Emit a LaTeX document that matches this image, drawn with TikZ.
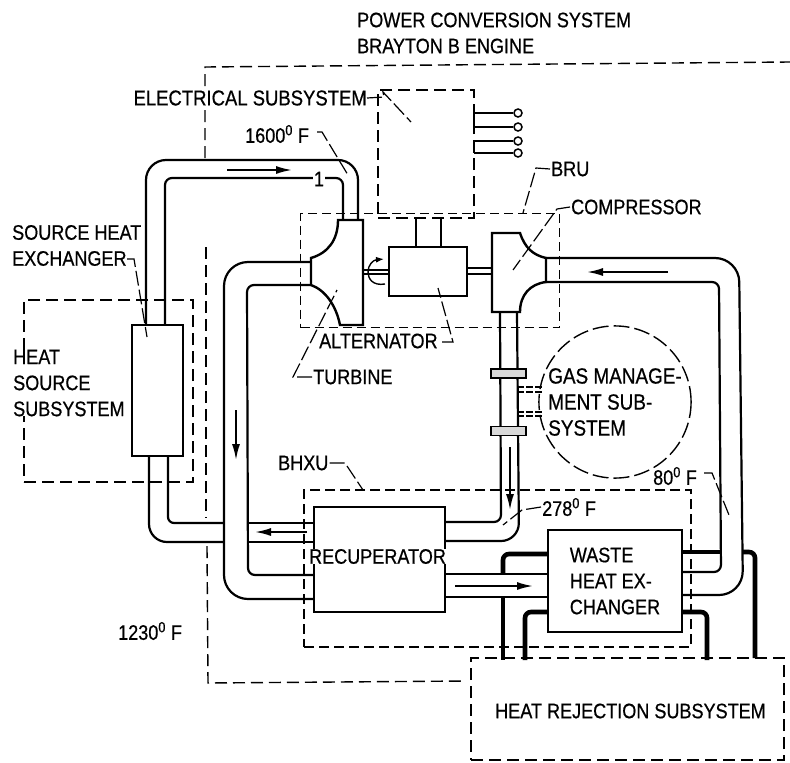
\documentclass[tikz,border=0pt]{standalone}
\usepackage{fontspec}
\setmainfont[FakeStretch=0.86,FakeBold=0.6]{Liberation Sans}
\usetikzlibrary{arrows.meta}

\tikzset{
	txt/.style={inner sep=1pt,font=\fontsize{21}{26}\selectfont,align=left},
	dbox/.style={draw,line width=1.4pt,dash pattern=on 12pt off 6pt,inner sep=0pt,txt},
	box/.style={draw,fill=white,line width=2.4pt,inner sep=0pt,txt},
	pipe/.style={line width=2.2pt},
	cool/.style={line width=4.6pt,rounded corners=6pt},
	lead/.style={line width=1.2pt,dash pattern=on 15pt off 4pt},
	flow/.style={line width=1.8pt,-{Latex[length=16pt,width=8pt]}},
	flange/.style={draw,fill=black!15,line width=1.6pt,minimum width=35pt,minimum height=9pt,inner sep=0pt},
	term/.style={draw,circle,fill=white,line width=1.5pt,minimum size=8pt,inner sep=0pt}
}

\begin{document}
\begin{tikzpicture}[x=1pt,y=-1pt]
		\useasboundingbox (0,0) rectangle (790,763);

		% Dashed boxes
		\draw[dbox] (205,158) -- (205,67) -- (790,62);
		\draw[dbox] (206,247) -- (206,518);
		\draw[dbox] (207,546) -- (208,683) -- (466,681);
		\node[dbox,minimum width=96pt,minimum height=128pt] (elec) at (426,154) {};
		\node[dbox,minimum width=259pt,minimum height=114pt,dash pattern=on 9pt off 5pt] (bru) at (430,270.5) {};
		\node[dbox,minimum width=169pt,minimum height=182pt] (heatsrc) at (108.5,391) {};
		\node[dbox,minimum width=387pt,minimum height=157pt,dash pattern=on 10pt off 5pt] (bhxu) at (497.5,568.5) {};
		\node[dbox,circle,minimum size=146pt,dash pattern=on 16pt off 5pt,font=\fontsize{22}{26}\selectfont] (gas) at (615,402) {GAS MANAGE-\\MENT SUB-\\SYSTEM};
		\node[dbox,minimum width=313pt,minimum height=102pt] (hrej) at (627.5,709) {};
		\node[txt] (hrejtxt) at (630.5,711) {HEAT REJECTION SUBSYSTEM};

		% Pipes
		\draw[pipe,rounded corners=20pt] (358,220) -- (358,160) -- (146,160) -- (146,325);
		\draw[pipe,rounded corners=7pt] (343,220) -- (343,178) -- (165,178) -- (165,325);
		\draw[pipe,rounded corners=18pt] (149,456) -- (149,542) -- (224,542);
		\draw[pipe,rounded corners=6pt] (168,456) -- (168,523) -- (224,523);
		\draw[pipe,rounded corners=24pt] (311,262) -- (224,262) -- (224,599) -- (314,599);
		\draw[pipe,rounded corners=7pt] (311,285) -- (247,285) -- (248,575) -- (314,575);
		\draw[pipe] (248,523) -- (314,523);
		\draw[pipe] (248,542) -- (314,542);
		\draw[pipe,rounded corners=24pt] (546,258) -- (739,258) -- (743,595) -- (682,595);
		\draw[pipe,rounded corners=7pt] (546,282) -- (719,282) -- (721,572) -- (682,572);
		\draw[pipe,rounded corners=7pt] (500,312) -- (501,522) -- (445,522);
		\draw[pipe,rounded corners=18pt] (517,312) -- (519,541) -- (445,541);
		\draw[pipe] (445,574) -- (548,574);
		\draw[pipe] (445,597) -- (548,597);

		% Cooling loops
		\draw[cool] (548,554) -- (503,554) -- (503,573);
		\draw[cool] (503,598) -- (503,660);
		\draw[cool] (548,612) -- (525,612) -- (525,660);
		\draw[cool] (682,552) -- (721,552);
		\draw[cool] (743,552) -- (755,552) -- (755,658);
		\draw[cool] (682,612) -- (707,612) -- (707,660);

		% Components
		\node[box,minimum width=51pt,minimum height=131pt] (srchx) at (157.5,390.5) {};
		\node[box,minimum width=78pt,minimum height=49pt] (alt) at (428,271.5) {};
		\node[box,minimum width=131pt,minimum height=105pt] (recup) at (379.5,559.5) {};
		\node[box,minimum width=134pt,minimum height=102pt] (wastehx) at (615,581) {WASTE\\HEAT EX-\\CHANGER};
		\node[txt,fill=white,inner sep=0pt] (recuptxt) at (377.5,556.5) {RECUPERATOR};
		\draw[box] (338,220) -- (363,220) -- (363,325) -- (340,325) .. controls (336,305) and (325,290) .. (311,285) -- (311,258) .. controls (328,253) and (338,240) .. (338,220) -- cycle;
		\draw[box] (492,233) -- (520,233) .. controls (525,248) and (533,255) .. (546,258) -- (546,282) .. controls (530,284) and (520,295) .. (520,312) -- (492,312) -- cycle;
		\node[flange] (flangea) at (508.5,373.5) {};
		\node[flange] (flangeb) at (508.5,431) {};

		% Edges
		\draw[pipe] (416,0 |- elec.south) -- (416,0 |- alt.north);
		\draw[pipe] (441,0 |- elec.south) -- (441,0 |- alt.north);
		\draw[line width=1.3pt] (363,270) -- (389,270);
		\draw[line width=1.3pt] (363,274) -- (389,274);
		\draw[line width=1.3pt] (467,268) -- (493,268);
		\draw[line width=1.3pt] (467,274) -- (493,274);
		\draw[line width=1.4pt,-{Latex[length=8pt,width=6pt]}] (385,284) .. controls (373,286) and (368,279) .. (368,272) .. controls (368,265) and (373,260) .. (384,259);
		\draw[dbox,dash pattern=on 7pt off 2pt] (517,387) -- (542,387);
		\draw[dbox,dash pattern=on 7pt off 2pt] (517,392) -- (542,392);
		\draw[dbox,dash pattern=on 7pt off 2pt] (517,412) -- (542,412);
		\draw[dbox,dash pattern=on 7pt off 2pt] (517,416) -- (542,416);

		% Terminals
		\node[term] (terma) at (518,113) {};
		\node[term] (termb) at (518,127) {};
		\node[term] (termc) at (518,141) {};
		\node[term] (termd) at (518,153) {};
		\draw[line width=1.3pt] (474,113) -- (terma);
		\draw[line width=1.3pt] (474,127) -- (termb);
		\draw[line width=1.3pt] (474,141) -- (termc);
		\draw[line width=1.3pt] (474,153) -- (termd);
		\draw[line width=1.6pt] (474,112) -- (474,130);
		\draw[line width=1.6pt] (474,141) -- (474,153);

		% Flow arrows
		\draw[flow] (227,170) -- (292,170);
		\draw[flow] (236,410) -- (236,460);
		\draw[flow] (307,532) -- (255,532);
		\draw[flow] (668,272) -- (587,272);
		\draw[flow] (510,447) -- (510,510);
		\draw[flow] (455,586) -- (533,586);

		% Labels
		\node[txt,anchor=west] (title) at (356,33) {POWER CONVERSION SYSTEM\\BRAYTON B ENGINE};
		\node[txt,anchor=east,fill=white,inner sep=0pt,font=\fontsize{21.5}{26}\selectfont] (elecsub) at (367,98) {ELECTRICAL SUBSYSTEM};
		\node[txt,anchor=west] (hot) at (244,134) {1600\textsuperscript{0} F};
		\node[txt,fill=white] (one) at (319,179) {1};
		\node[txt,anchor=west] (srclbl) at (11,245.5) {SOURCE HEAT\\EXCHANGER};
		\node[txt,anchor=west,fill=white,inner sep=0pt] (srcsub) at (13,383) {HEAT\\SOURCE\\SUBSYSTEM};
		\node[txt,anchor=west] (brulbl) at (550,169) {BRU};
		\node[txt,anchor=west] (complbl) at (570,207) {COMPRESSOR};
		\node[txt,anchor=west] (altlbl) at (318,341) {ALTERNATOR};
		\node[txt,anchor=west] (turblbl) at (312,377) {TURBINE};
		\node[txt,anchor=west] (bhxulbl) at (277,463) {BHXU};
		\node[txt,anchor=west] (warm) at (541,507) {278\textsuperscript{0} F};
		\node[txt,anchor=west] (cold) at (652,476) {80\textsuperscript{0} F};
		\node[txt,anchor=west] (mid) at (117,631) {1230\textsuperscript{0} F};

		% Leaders
		\coordinate (elecend) at (411,122);
		\coordinate (hotend) at (348,175);
		\coordinate (srcend) at (147,337);
		\coordinate (bruend) at (523,213);
		\coordinate (compend) at (513,270);
		\coordinate (altend) at (438,288);
		\coordinate (turbend) at (337,290);
		\coordinate (bhxuend) at (363,490);
		\coordinate (warmend) at (503,525);
		\coordinate (coldend) at (729,515);
		\draw[lead] (elecsub.east) -- (384,97) -- (383,92) -- (elecend);
		\draw[lead] (hot.east) ++(7,-2) -- (322,132) -- (hotend);
		\draw[lead] (127,259) -- (134,259) -- (srcend);
		\draw[lead] (brulbl.west) -- (536,168) -- (bruend);
		\draw[lead] (complbl.west) -- (557,209) -- (compend);
		\draw[lead] (442,342) -- (453,342) -- (altend);
		\draw[lead] (turblbl.west) -- (293,377) -- (turbend);
		\draw[lead] (bhxulbl.east) -- (345,463) -- (bhxuend);
		\draw[lead] (warm.west) -- (522,510) -- (warmend);
		\draw[lead] (cold.east) ++(6,-3) -- (712,473) -- (coldend);

	\end{tikzpicture}
\end{document}
